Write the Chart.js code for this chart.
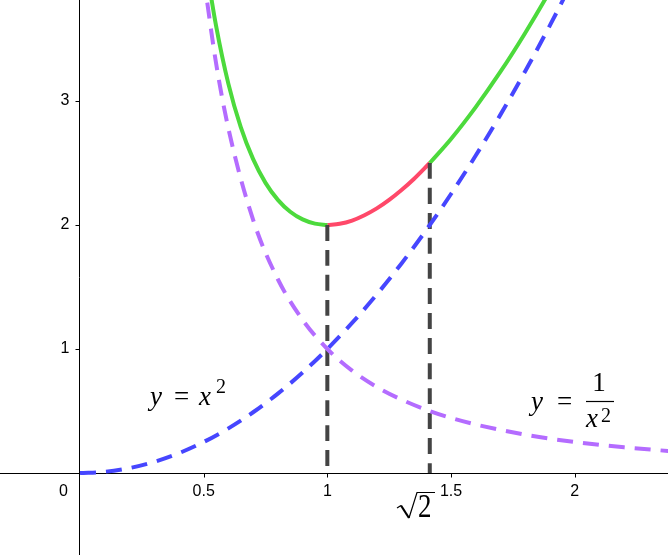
<!DOCTYPE html>
<html>
<head>
<meta charset="utf-8">
<script src="https://cdn.jsdelivr.net/npm/chart.js@4"></script>
<style>
  html, body { margin: 0; padding: 0; background: #fff; }
  #wrap { width: 668px; height: 555px; }
</style>
</head>
<body>
<div id="wrap"><canvas id="myChart"></canvas></div>
<script>
// f(x) = x^2 + 1/x^2, green parts
var greenLeftX  = [0.50, 0.52, 0.55, 0.60, 0.65, 0.70, 0.75, 0.80, 0.85, 0.90, 0.95, 1.00];
var greenLeftY  = [4.25, 3.969, 3.608, 3.138, 2.789, 2.531, 2.340, 2.203, 2.107, 2.045, 2.011, 2.00];
var greenRightX = [1.4142, 1.50, 1.60, 1.70, 1.80, 1.90, 2.00];
var greenRightY = [2.50, 2.694, 2.951, 3.236, 3.549, 3.887, 4.25];
// red part between 1 and sqrt(2)
var redX = [1.00, 1.05, 1.10, 1.15, 1.20, 1.25, 1.30, 1.35, 1.4142];
var redY = [2.00, 2.010, 2.036, 2.079, 2.134, 2.2025, 2.282, 2.371, 2.50];
// y = x^2
var blueX = [0, 0.1, 0.2, 0.3, 0.4, 0.5, 0.6, 0.7, 0.8, 0.9, 1.0, 1.1, 1.2, 1.3, 1.4, 1.5, 1.6, 1.7, 1.8, 1.9, 2.0];
var blueY = [0, 0.01, 0.04, 0.09, 0.16, 0.25, 0.36, 0.49, 0.64, 0.81, 1.0, 1.21, 1.44, 1.69, 1.96, 2.25, 2.56, 2.89, 3.24, 3.61, 4.0];
// y = 1/x^2
var purpleX = [0.50, 0.55, 0.60, 0.70, 0.80, 0.90, 1.00, 1.10, 1.20, 1.30, 1.40, 1.50, 1.60, 1.80, 2.00, 2.20, 2.40];
var purpleY = [4.00, 3.306, 2.778, 2.041, 1.5625, 1.235, 1.00, 0.826, 0.694, 0.592, 0.510, 0.444, 0.391, 0.309, 0.25, 0.207, 0.174];
// dashed verticals
var dropX = [1.00, 1.4142];
var dropTop = [2.00, 2.50];

var xTicks = [0.5, 1, 1.5, 2];
var xTickLabels = ['0.5', '1', '1.5', '2'];
var yTicks = [1, 2, 3];
var yTickLabels = ['1', '2', '3'];

function pts(xs, ys) {
    return xs.map(function (x, i) { return { x: x, y: ys[i] }; });
}

function curve(data, color, dash) {
    return {
        data: data,
        showLine: true,
        borderColor: color,
        borderWidth: 4,
        borderDash: dash || [],
        pointRadius: 0,
        cubicInterpolationMode: 'monotone',
        fill: false
    };
}

var axesPlugin = {
    id: 'axes',
    beforeDatasetsDraw: function (chart) {
        var c = chart.ctx, xs = chart.scales.x, ys = chart.scales.y;
        var a = chart.chartArea;
        var x0 = Math.round(xs.getPixelForValue(0)) - 0.5;
        var y0 = Math.round(ys.getPixelForValue(0)) + 0.5;
        c.save();
        c.strokeStyle = '#000';
        c.lineWidth = 1;
        c.beginPath();
        c.moveTo(a.left, y0); c.lineTo(a.right, y0);
        c.moveTo(x0, a.top); c.lineTo(x0, a.bottom);
        xTicks.forEach(function (v) {
            var p = Math.round(xs.getPixelForValue(v)) + 0.5;
            c.moveTo(p, y0); c.lineTo(p, y0 + 4);
        });
        yTicks.forEach(function (v) {
            var p = Math.round(ys.getPixelForValue(v)) + 0.5;
            c.moveTo(x0 - 4, p); c.lineTo(x0, p);
        });
        c.stroke();

        c.fillStyle = '#000';
        c.font = '16px "Liberation Sans", Arial, sans-serif';
        c.textBaseline = 'middle';
        c.textAlign = 'center';
        xTicks.forEach(function (v, i) {
            c.fillText(xTickLabels[i], xs.getPixelForValue(v), y0 + 18);
        });
        c.fillText('0', x0 - 16, y0 + 18);
        c.textAlign = 'right';
        yTicks.forEach(function (v, i) {
            c.fillText(yTickLabels[i], x0 - 10, ys.getPixelForValue(v));
        });
        c.restore();
    },
    afterDatasetsDraw: function (chart) {
        var c = chart.ctx;
        c.save();
        c.fillStyle = '#000';
        c.strokeStyle = '#000';
        c.textBaseline = 'alphabetic';
        var it = 'italic 27px "Liberation Serif", "Times New Roman", serif';
        var up = '27px "Liberation Serif", "Times New Roman", serif';
        var sm = '20px "Liberation Serif", "Times New Roman", serif';

        // y = x^2
        c.textAlign = 'left';
        c.font = it; c.fillText('y', 150, 405);
        c.font = up; c.fillText('=', 174, 405);
        c.font = it; c.fillText('x', 199, 405);
        c.font = sm; c.fillText('2', 216, 393);

        // y = 1/x^2
        c.font = it; c.fillText('y', 531, 410);
        c.font = up; c.fillText('=', 557, 410);
        c.textAlign = 'center';
        c.font = up; c.fillText('1', 599, 391);
        c.lineWidth = 1.2;
        c.beginPath(); c.moveTo(586, 401.5); c.lineTo(614, 401.5); c.stroke();
        c.textAlign = 'left';
        c.font = it; c.fillText('x', 586, 427);
        c.font = sm; c.fillText('2', 601, 422);

        // sqrt(2) under the axis
        c.lineWidth = 1.2;
        c.beginPath();
        c.moveTo(397, 508); c.lineTo(401, 505.5);
        c.stroke();
        c.lineWidth = 2.2;
        c.beginPath();
        c.moveTo(401, 505.5); c.lineTo(409, 518);
        c.stroke();
        c.lineWidth = 1.2;
        c.beginPath();
        c.moveTo(409, 518); c.lineTo(417, 492.5); c.lineTo(435, 492.5);
        c.stroke();
        c.translate(418, 517);
        c.scale(1, 1.22);
        c.font = up; c.fillText('2', 0, 0);
        c.restore();
    }
};

var ctx = document.getElementById('myChart').getContext('2d');
var myChart = new Chart(ctx, {
    type: 'scatter',
    data: {
        datasets: [
            curve(pts(purpleX, purpleY), 'rgb(180, 108, 255)', [16, 10]),
            curve(pts(blueX, blueY), 'rgb(70, 70, 255)', [16, 10]),
            curve([{ x: dropX[0], y: dropTop[0] }, { x: dropX[0], y: 0 }], 'rgb(68, 68, 68)', [16, 9]),
            curve([{ x: dropX[1], y: dropTop[1] }, { x: dropX[1], y: 0 }], 'rgb(68, 68, 68)', [16, 9]),
            curve(pts(greenLeftX, greenLeftY), 'rgb(76, 218, 60)'),
            curve(pts(greenRightX, greenRightY), 'rgb(76, 218, 60)'),
            curve(pts(redX, redY), 'rgb(255, 72, 105)')
        ]
    },
    options: {
        responsive: true,
        maintainAspectRatio: false,
        animation: false,
        layout: { padding: 0 },
        plugins: {
            legend: { display: false },
            tooltip: { enabled: false }
        },
        scales: {
            x: { type: 'linear', min: -0.3235, max: 2.3774, display: false },
            y: { type: 'linear', min: -0.6613, max: 3.8145, display: false }
        }
    },
    plugins: [axesPlugin]
});
</script>
</body>
</html>
